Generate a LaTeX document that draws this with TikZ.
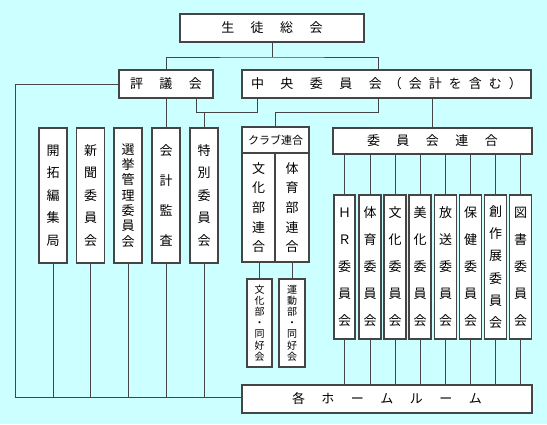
\documentclass[tikz,border=0pt]{standalone}
\usepackage{fontspec}
\setmainfont{Noto Sans CJK JP}
\usetikzlibrary{positioning}
\definecolor{bgcyan}{HTML}{CCFFFF}
\definecolor{linegray}{HTML}{454545}

\tikzset{
  box/.style={draw=linegray, fill=white, line width=1.3pt, inner sep=0pt},
  yoko/.style={box, font={\fontsize{13}{15}\selectfont\spaceskip=16.5pt\relax}},
  tate/.style={box, align=center, font={\fontsize{13}{#1}\selectfont}},
  kotate/.style={box, align=center, font={\fontsize{10}{11.2}\selectfont}},
  link/.style={draw=linegray, line width=1pt},
}

\begin{document}
\begin{tikzpicture}[x=1pt, y=-1pt]
% Background
\fill[bgcyan] (0,0) rectangle (547,424);
\useasboundingbox (0,0) rectangle (547,424);

% Top levels
\node[yoko, minimum width=184pt, minimum height=28pt] (sokai) at (272,28) {生 徒 総 会};
\node[yoko, minimum width=94pt, minimum height=28pt] (hyogi) at (166,84) {評 議 会};
\node[yoko, minimum width=289pt, minimum height=28pt] (chuo) at (386.5,84)
  {中 央 委 員 会{\spaceskip=7pt\relax\space（ 会 計 を 含 む ）}};
\node[yoko, minimum width=290pt, minimum height=28pt] (room) at (387,399) {各 ホ ー ム ル ー ム};

% Under the council
\node[tate=22.5pt, minimum width=28pt, minimum height=135pt] (kaitaku) at (53,195.5) {開\\拓\\編\\集\\局};
\node[tate=22.5pt, minimum width=28pt, minimum height=135pt] (shinbun) at (90.5,195.5) {新\\聞\\委\\員\\会};
\node[tate=15.3pt, minimum width=28pt, minimum height=135pt] (senkyo) at (128,195.5) {選\\挙\\管\\理\\委\\員\\会};
\node[tate=30pt, minimum width=28pt, minimum height=135pt] (kaikei) at (166,195.5) {会\\計\\監\\査};
\node[tate=22.5pt, minimum width=28pt, minimum height=135pt] (tokubetsu) at (204,195.5) {特\\別\\委\\員\\会};

% Club union
\node[box, font={\fontsize{11}{13}\selectfont}, minimum width=67pt, minimum height=26pt] (club) at (275.5,140) {クラブ連合};
\node[tate=19.6pt, minimum width=33pt, minimum height=109pt] (bunren) at (258.5,207.5) {文\\化\\部\\連\\合};
\node[tate=19.6pt, minimum width=34pt, minimum height=109pt] (tairen) at (292,207.5) {体\\育\\部\\連\\合};
\node[kotate, minimum width=25pt, minimum height=88pt] (bundo) at (259.5,323) {文\\化\\部\\・\\同\\好\\会};
\node[kotate, minimum width=26pt, minimum height=88pt] (undo) at (292,323) {運\\動\\部\\・\\同\\好\\会};

% Committee union
\node[yoko, minimum width=199pt, minimum height=26pt] (rengo) at (432.5,141) {委 員 会 連 合};
\node[tate=27pt, minimum width=21pt, minimum height=144pt] (hr) at (344.5,267) {Ｈ\\Ｒ\\委\\員\\会};
\node[tate=27pt, minimum width=22pt, minimum height=144pt] (taiiku) at (370,267) {体\\育\\委\\員\\会};
\node[tate=27pt, minimum width=22pt, minimum height=144pt] (bunka) at (395,267) {文\\化\\委\\員\\会};
\node[tate=27pt, minimum width=22pt, minimum height=144pt] (bika) at (420,267) {美\\化\\委\\員\\会};
\node[tate=27pt, minimum width=22pt, minimum height=144pt] (hoso) at (445.5,267) {放\\送\\委\\員\\会};
\node[tate=27pt, minimum width=22pt, minimum height=144pt] (hoken) at (470.5,267) {保\\健\\委\\員\\会};
\node[tate=22.3pt, minimum width=22pt, minimum height=144pt] (sosaku) at (495.5,267) {創\\作\\展\\委\\員\\会};
\node[tate=27pt, minimum width=22pt, minimum height=144pt] (tosho) at (520.5,267) {図\\書\\委\\員\\会};

% Connectors
\coordinate (top) at (272,57);
\coordinate (hyb) at (196,112);
\coordinate (chb) at (257,112);
\coordinate (base) at (15,397);
\draw[link] (sokai.south) -- (top);
\draw[link] (hyogi.north) |- (top) -| ([xshift=-8.5pt]chuo.north);
\draw[link] (hyogi.south) -- (kaikei.north);
\draw[link] (hyogi.south -| hyb) -- (hyb) -- (chb) -- (chb |- chuo.south);
\draw[link] (tokubetsu.north) -- (tokubetsu.north |- hyb);
\draw[link] ([xshift=-8.5pt]chuo.south) |- (club.north |- hyb) -- (club.north);
\draw[link] (rengo.north |- chuo.south) -- (rengo.north);
\draw[link] (hyogi.west) -| (base) -- ([yshift=2pt]room.west);
\draw[link] (kaitaku.south) -- (kaitaku.south |- base);
\draw[link] (shinbun.south) -- (shinbun.south |- base);
\draw[link] (senkyo.south) -- (senkyo.south |- base);
\draw[link] (kaikei.south) -- (kaikei.south |- base);
\draw[link] (tokubetsu.south) -- (tokubetsu.south |- base);
\draw[link] (bunren.south -| bundo.north) -- (bundo.north);
\draw[link] (tairen.south) -- (undo.north);
\draw[link] (hr.north |- rengo.south) -- (hr.north) (hr.south) -- (hr.south |- room.north);
\draw[link] (taiiku.north |- rengo.south) -- (taiiku.north) (taiiku.south) -- (taiiku.south |- room.north);
\draw[link] (bunka.north |- rengo.south) -- (bunka.north) (bunka.south) -- (bunka.south |- room.north);
\draw[link] (bika.north |- rengo.south) -- (bika.north) (bika.south) -- (bika.south |- room.north);
\draw[link] (hoso.north |- rengo.south) -- (hoso.north) (hoso.south) -- (hoso.south |- room.north);
\draw[link] (hoken.north |- rengo.south) -- (hoken.north) (hoken.south) -- (hoken.south |- room.north);
\draw[link] (sosaku.north |- rengo.south) -- (sosaku.north) (sosaku.south) -- (sosaku.south |- room.north);
\draw[link] (tosho.north |- rengo.south) -- (tosho.north) (tosho.south) -- (tosho.south |- room.north);
\end{tikzpicture}
\end{document}
